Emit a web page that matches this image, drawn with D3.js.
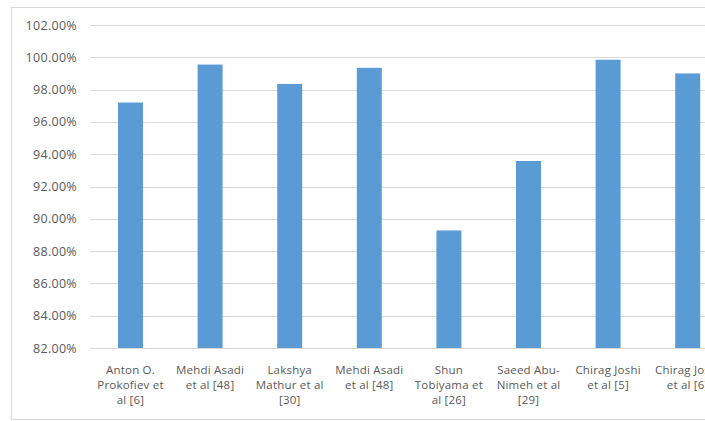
<!DOCTYPE html>
<html>
<head>
<meta charset="utf-8">
<script src="https://cdn.jsdelivr.net/npm/d3@7/dist/d3.min.js"></script>
<style>
  html, body { margin: 0; padding: 0; background: #fff; overflow: hidden; }
  svg { display: block; }
  text { font-family: "Open Sans", Lato, sans-serif; fill: #595959; }
</style>
</head>
<body>
<svg id="chart" width="705" height="421"></svg>
<script>
// Accuracy reported by each study (percent)
const categories = [
  "Anton O.\nProkofiev et\nal [6]",
  "Mehdi Asadi\net al [48]",
  "Lakshya\nMathur et al\n[30]",
  "Mehdi Asadi\net al [48]",
  "Shun\nTobiyama et\nal [26]",
  "Saeed Abu-\nNimeh et al\n[29]",
  "Chirag Joshi\net al [5]",
  "Chirag Joshi\net al [6]"
];
const accuracy = [97.2, 99.55, 98.35, 99.35, 89.28, 93.58, 99.85, 99.0];
const yTicks = [82, 84, 86, 88, 90, 92, 94, 96, 98, 100, 102];

const svg = d3.select("#chart");

// chart frame
svg.append("rect")
  .attr("x", 11.5).attr("y", 7.5)
  .attr("width", 900).attr("height", 412)
  .attr("fill", "#fff")
  .attr("stroke", "#d9d9d9");

const x = d3.scaleBand()
  .domain(d3.range(categories.length))
  .range([90.7, 727.5])
  .paddingInner(0.686)
  .paddingOuter(0.343);

const y = d3.scaleLinear()
  .domain([82, 102])
  .range([348, 25]);

// horizontal gridlines
svg.append("g")
  .selectAll("line")
  .data(yTicks)
  .join("line")
  .attr("x1", 90).attr("x2", 728)
  .attr("y1", d => Math.round(y(d)) + 0.5)
  .attr("y2", d => Math.round(y(d)) + 0.5)
  .attr("stroke", "#d9d9d9")
  .attr("stroke-width", 1);

// y axis labels
const yAxis = d3.axisLeft(y)
  .tickValues(yTicks)
  .tickSize(0)
  .tickPadding(0)
  .tickFormat(d => d.toFixed(2) + "%");

svg.append("g")
  .attr("transform", "translate(77,0)")
  .call(yAxis)
  .call(g => g.select(".domain").remove())
  .call(g => g.selectAll("text")
    .attr("font-size", 12.5)
    .attr("letter-spacing", 0.3)
    .attr("font-family", "'Open Sans', Lato, sans-serif")
    .attr("fill", "#595959"));

// bars
svg.append("g")
  .selectAll("rect")
  .data(accuracy)
  .join("rect")
  .attr("x", (d, i) => x(i))
  .attr("width", x.bandwidth())
  .attr("y", d => y(d))
  .attr("height", d => y(82) - y(d))
  .attr("fill", "#5b9bd5");

// category axis line
svg.append("line")
  .attr("x1", 90).attr("x2", 728)
  .attr("y1", Math.round(y(82)) + 0.5)
  .attr("y2", Math.round(y(82)) + 0.5)
  .attr("stroke", "#d9d9d9");

// wrapped category labels
const labels = svg.append("g")
  .selectAll("text")
  .data(categories)
  .join("text")
  .attr("text-anchor", "middle")
  .attr("font-size", 11.5)
  .attr("letter-spacing", 0.2)
  .attr("x", (d, i) => x(i) + x.bandwidth() / 2)
  .attr("y", 374);

labels.selectAll("tspan")
  .data(d => d.split("\n"))
  .join("tspan")
  .attr("x", function () { return this.parentNode.getAttribute("x"); })
  .attr("dy", (d, i) => i === 0 ? 0 : 15)
  .text(d => d);
</script>
</body>
</html>
